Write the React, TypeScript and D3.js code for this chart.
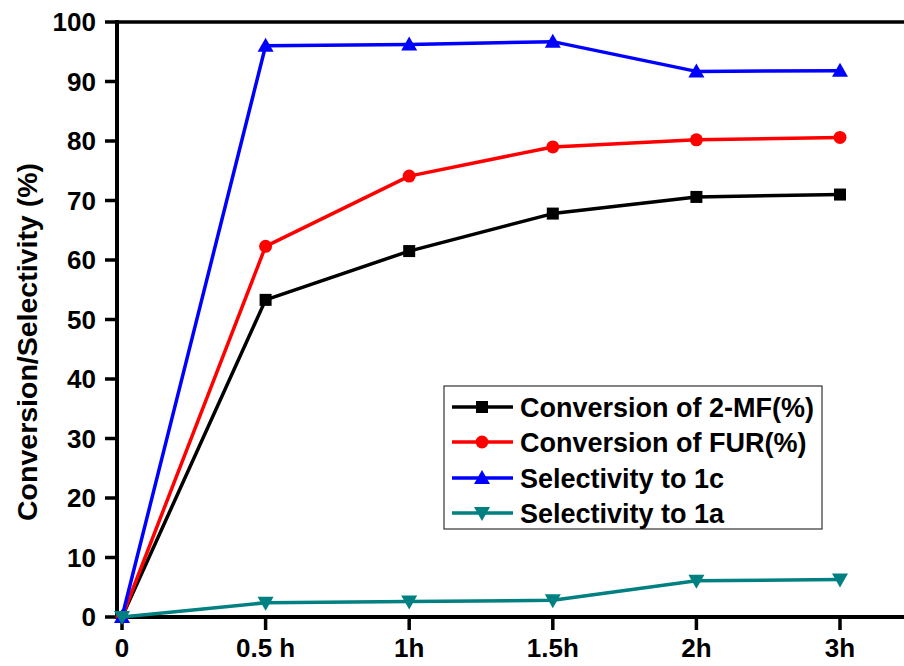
import React from "react";
import * as d3 from "d3";

const categories = ["0", "0.5 h", "1h", "1.5h", "2h", "3h"];
const conv2MF = [0, 53.3, 61.5, 67.8, 70.6, 71.0];
const convFUR = [0, 62.3, 74.1, 79.0, 80.2, 80.6];
const sel1c = [0, 96.0, 96.2, 96.7, 91.7, 91.8];
const sel1a = [0, 2.4, 2.6, 2.8, 6.1, 6.3];
const yTicks = [0, 10, 20, 30, 40, 50, 60, 70, 80, 90, 100];

const seriesNames = ["Conversion of 2-MF(%)", "Conversion of FUR(%)", "Selectivity to 1c", "Selectivity to 1a"];
const seriesColors = ["#000000", "#ff0000", "#0000ff", "#008080"];
const seriesMarkers = ["square", "circle", "triangle", "triangleDown"];

const W = 904, H = 666;
const font = "'Liberation Sans', Arial, sans-serif";

function Marker({ type, x, y, color }: { type: string; x: number; y: number; color: string }) {
  if (type === "square") return <rect x={x - 6} y={y - 6} width={12} height={12} fill={color} />;
  if (type === "circle") return <circle cx={x} cy={y} r={6.5} fill={color} />;
  if (type === "triangle") return <path d={`M${x},${y - 8}L${x + 8},${y + 6}L${x - 8},${y + 6}Z`} fill={color} />;
  return <path d={`M${x},${y + 8}L${x + 8},${y - 6}L${x - 8},${y - 6}Z`} fill={color} />;
}

export default function App() {
  const x0 = 122, step = 143.6;
  const xScale = d3.scalePoint<string>().domain(categories).range([x0, x0 + step * 5]);
  const yScale = d3.scaleLinear().domain([0, 100]).range([617, 22]);
  const axisX = 117;
  const allSeries = [conv2MF, convFUR, sel1c, sel1a];
  const line = d3.line<number>().x((_, i) => xScale(categories[i])!).y(d => yScale(d));

  const legX = 444, legY = 386, legW = 378, legH = 143;
  const rowYs = [407, 442, 478, 513];

  return (
    <svg width={W} height={H} style={{ position: "absolute", left: 0, top: 0, background: "#fff" }}>
      <rect width={W} height={H} fill="#fff" />
      <line x1={axisX} x2={W} y1={yScale(100)} y2={yScale(100)} stroke="#000" strokeWidth={3.5} />
      <line x1={axisX - 2} x2={W} y1={yScale(0)} y2={yScale(0)} stroke="#000" strokeWidth={4} />
      <line x1={axisX} x2={axisX} y1={yScale(100) - 2} y2={yScale(0) + 2} stroke="#000" strokeWidth={4} />
      {yTicks.map(t => (
        <g key={t}>
          <line x1={axisX - 12} x2={axisX} y1={yScale(t)} y2={yScale(t)} stroke="#000" strokeWidth={3.5} />
          <text x={96} y={yScale(t)} dy="0.36em" textAnchor="end" fontFamily={font} fontWeight="bold" fontSize={26}>{t}</text>
        </g>
      ))}
      {categories.map(c => (
        <g key={c}>
          <line x1={xScale(c)!} x2={xScale(c)!} y1={yScale(0)} y2={yScale(0) + 13} stroke="#000" strokeWidth={3.5} />
          <text x={xScale(c)!} y={657} textAnchor="middle" fontFamily={font} fontWeight="bold" fontSize={26}>{c}</text>
        </g>
      ))}
      <text transform={`translate(37,342) rotate(-90)`} textAnchor="middle" fontFamily={font} fontWeight="bold" fontSize={28.5}>Conversion/Selectivity (%)</text>
      {allSeries.map((s, si) => (
        <g key={si}>
          <path d={line(s)!} fill="none" stroke={seriesColors[si]} strokeWidth={3.5} strokeLinejoin="round" />
          {s.map((v, i) => (
            <Marker key={i} type={seriesMarkers[si]} x={xScale(categories[i])!} y={yScale(v)} color={seriesColors[si]} />
          ))}
        </g>
      ))}
      <rect x={legX} y={legY} width={legW} height={legH} fill="#fff" stroke="#333" strokeWidth={1.2} />
      {seriesNames.map((n, i) => (
        <g key={n}>
          <line x1={452} x2={513} y1={rowYs[i]} y2={rowYs[i]} stroke={seriesColors[i]} strokeWidth={3.5} />
          <Marker type={seriesMarkers[i]} x={482} y={rowYs[i]} color={seriesColors[i]} />
          <text x={520} y={rowYs[i]} dy="0.36em" fontFamily={font} fontWeight="bold" fontSize={27}>{n}</text>
        </g>
      ))}
    </svg>
  );
}
